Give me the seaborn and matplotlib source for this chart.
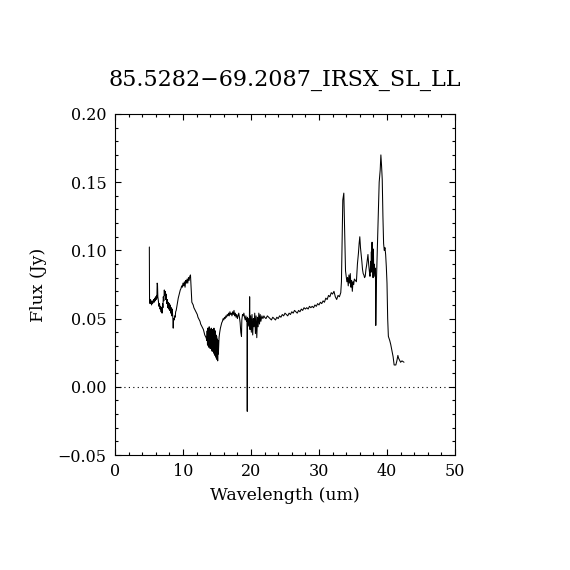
import numpy as np
import pandas as pd
import matplotlib
matplotlib.use("Agg")
import matplotlib.pyplot as plt
import seaborn as sns
from matplotlib.ticker import MultipleLocator, FuncFormatter

title = "85.5282\u221269.2087_IRSX_SL_LL"
x_label = "Wavelength (um)"
y_label = "Flux (Jy)"

# Short-low module
sl_wave = [5.05, 5.08, 5.15, 5.22, 5.30, 5.38, 5.45, 5.52, 5.60, 5.68, 5.75, 5.82, 5.90, 5.98,
           6.05, 6.12, 6.16, 6.20, 6.25, 6.30, 6.38, 6.46, 6.55, 6.62, 6.70, 6.78, 6.85, 6.92,
           7.00, 7.05, 7.10, 7.18, 7.25, 7.30, 7.38, 7.45, 7.52, 7.60, 7.68, 7.75, 7.82, 7.90,
           7.98, 8.05, 8.12, 8.20, 8.28, 8.35, 8.42, 8.50, 8.56, 8.62, 8.70, 8.78, 8.85, 8.92,
           9.00, 9.10, 9.20, 9.30, 9.40, 9.50, 9.60, 9.70, 9.80, 9.90, 10.00, 10.10, 10.20,
           10.30, 10.40, 10.50, 10.60, 10.70, 10.80, 10.90, 11.00, 11.10, 11.20, 11.30, 11.40,
           11.50, 11.60, 11.70, 11.80, 11.90, 12.00, 12.10, 12.20, 12.30, 12.40, 12.50, 12.60,
           12.70, 12.80, 12.90, 13.00, 13.10, 13.20, 13.30, 13.40]
sl_flux = [0.1025, 0.063, 0.061, 0.064, 0.062, 0.060, 0.063, 0.061, 0.062, 0.064, 0.062, 0.065, 0.063, 0.066,
           0.064, 0.067, 0.065, 0.076, 0.075, 0.066, 0.063, 0.059, 0.061, 0.057, 0.059, 0.055, 0.058, 0.054,
           0.061, 0.058, 0.066, 0.063, 0.071, 0.067, 0.070, 0.064, 0.068, 0.061, 0.064, 0.058, 0.062, 0.057,
           0.061, 0.056, 0.060, 0.054, 0.058, 0.052, 0.057, 0.051, 0.043, 0.050, 0.049, 0.052, 0.051, 0.055,
           0.056, 0.059, 0.062, 0.065, 0.067, 0.069, 0.071, 0.072, 0.074, 0.073, 0.076, 0.074, 0.077,
           0.073, 0.078, 0.076, 0.079, 0.076, 0.080, 0.078, 0.081, 0.082, 0.072, 0.062, 0.061,
           0.060, 0.058, 0.057, 0.056, 0.055, 0.054, 0.053, 0.051, 0.050, 0.049, 0.048, 0.046,
           0.045, 0.044, 0.043, 0.042, 0.040, 0.038, 0.037, 0.036]

# Long-low module, noisy blue end
ll_blue_wave = [13.50, 13.55, 13.60, 13.65, 13.70, 13.75, 13.80, 13.85, 13.90, 13.95, 14.00, 14.05,
                14.10, 14.15, 14.20, 14.25, 14.30, 14.35, 14.40, 14.45, 14.50, 14.55, 14.60, 14.65,
                14.70, 14.75, 14.80, 14.85, 14.90, 14.95, 15.00, 15.05, 15.10, 15.15, 15.20, 15.30,
                15.40, 15.50, 15.60, 15.70, 15.80, 15.90, 16.00, 16.10, 16.20, 16.30, 16.40, 16.50,
                16.60, 16.70, 16.80, 16.90, 17.00, 17.10, 17.20, 17.30, 17.40, 17.50, 17.60, 17.70,
                17.80, 17.90, 18.00, 18.10, 18.20, 18.30, 18.40, 18.50, 18.60, 18.65, 18.75, 18.85,
                18.95, 19.05, 19.15, 19.25, 19.35, 19.42, 19.45, 19.48, 19.55, 19.65, 19.75, 19.80,
                19.85, 19.95, 20.05, 20.15, 20.25, 20.35, 20.45, 20.55, 20.65, 20.75, 20.85, 20.95,
                21.05, 21.15, 21.25, 21.35, 21.45, 21.60, 21.75, 21.90]
ll_blue_flux = [0.034, 0.041, 0.031, 0.043, 0.030, 0.040, 0.029, 0.044, 0.032, 0.042, 0.028, 0.041,
                0.030, 0.043, 0.027, 0.040, 0.026, 0.042, 0.028, 0.039, 0.025, 0.043, 0.024, 0.040,
                0.023, 0.041, 0.022, 0.038, 0.021, 0.037, 0.020, 0.035, 0.019, 0.034, 0.024, 0.036,
                0.040, 0.043, 0.045, 0.047, 0.048, 0.050, 0.049, 0.051, 0.050, 0.052, 0.051, 0.053,
                0.052, 0.054, 0.052, 0.055, 0.053, 0.054, 0.052, 0.055, 0.053, 0.056, 0.052, 0.054,
                0.051, 0.053, 0.050, 0.052, 0.054, 0.051, 0.047, 0.040, 0.037, 0.049, 0.053, 0.052,
                0.054, 0.051, 0.049, 0.052, 0.048, 0.050, -0.018, 0.051, 0.045, 0.050, 0.044, 0.066,
                0.042, 0.052, 0.040, 0.053, 0.038, 0.050, 0.044, 0.054, 0.039, 0.052, 0.036, 0.051,
                0.044, 0.054, 0.046, 0.053, 0.048, 0.052, 0.050, 0.052]

# Long-low module, continuum
ll_mid_wave = [22.0, 22.2, 22.4, 22.6, 22.8, 23.0, 23.2, 23.4, 23.6, 23.8,
               24.0, 24.2, 24.4, 24.6, 24.8, 25.0, 25.2, 25.4, 25.6, 25.8,
               26.0, 26.2, 26.4, 26.6, 26.8, 27.0, 27.2, 27.4, 27.6, 27.8,
               28.0, 28.2, 28.4, 28.6, 28.8, 29.0, 29.2, 29.4, 29.6, 29.8,
               30.0, 30.2, 30.4, 30.6, 30.8, 31.0, 31.2, 31.4, 31.6, 31.8,
               32.0, 32.2, 32.4, 32.6, 32.8, 33.0, 33.2, 33.3]
ll_mid_flux = [0.051, 0.050, 0.052, 0.051, 0.050, 0.049, 0.051, 0.050, 0.049, 0.051,
               0.050, 0.052, 0.051, 0.053, 0.052, 0.054, 0.053, 0.052, 0.054, 0.053,
               0.055, 0.054, 0.056, 0.055, 0.054, 0.056, 0.055, 0.057, 0.056, 0.058,
               0.057, 0.058, 0.057, 0.059, 0.058, 0.059, 0.058, 0.060, 0.059, 0.061,
               0.060, 0.062, 0.061, 0.063, 0.062, 0.065, 0.064, 0.067, 0.066, 0.069,
               0.068, 0.070, 0.066, 0.064, 0.067, 0.066, 0.069, 0.077]

# Long-low module, red end with the emission peaks
ll_red_wave = [33.5, 33.65, 33.75, 33.9, 34.0, 34.1, 34.2, 34.3, 34.4, 34.5,
               34.6, 34.7, 34.8, 34.9, 35.0, 35.1, 35.2, 35.35, 35.5, 35.65,
               35.8, 35.9, 36.0, 36.1, 36.2, 36.3, 36.4, 36.5, 36.6, 36.7,
               36.8, 36.9, 37.0, 37.1, 37.2, 37.3, 37.4, 37.5, 37.6, 37.65,
               37.7, 37.75, 37.8, 37.85, 37.9, 37.95, 38.0, 38.05, 38.1, 38.2,
               38.3, 38.35, 38.45, 38.6, 38.7, 38.85, 39.0, 39.1, 39.2, 39.3,
               39.4, 39.5, 39.6, 39.7, 39.8, 39.9, 40.0, 40.1, 40.2, 40.4,
               40.55, 40.7, 40.9, 41.05, 41.3, 41.45, 41.6, 41.7, 41.8, 42.0,
               42.2, 42.5]
ll_red_flux = [0.137, 0.142, 0.120, 0.085, 0.081, 0.077, 0.080, 0.074, 0.082, 0.076,
               0.083, 0.073, 0.078, 0.070, 0.077, 0.075, 0.079, 0.078, 0.077, 0.090,
               0.098, 0.105, 0.110, 0.102, 0.097, 0.092, 0.086, 0.083, 0.082, 0.080,
               0.081, 0.086, 0.089, 0.093, 0.097, 0.090, 0.085, 0.081, 0.092, 0.084,
               0.099, 0.086, 0.106, 0.088, 0.093, 0.080, 0.101, 0.084, 0.090, 0.081,
               0.087, 0.045, 0.078, 0.105, 0.125, 0.150, 0.159, 0.170, 0.162, 0.152,
               0.125, 0.105, 0.100, 0.102, 0.097, 0.088, 0.076, 0.050, 0.037, 0.034,
               0.031, 0.027, 0.022, 0.016, 0.016, 0.019, 0.023, 0.021, 0.020, 0.018,
               0.019, 0.018]

wave = sl_wave + ll_blue_wave + ll_mid_wave + ll_red_wave
flux = sl_flux + ll_blue_flux + ll_mid_flux + ll_red_flux
df = pd.DataFrame({"wave": wave, "flux": flux})

sns.set_style("ticks")
plt.rcParams["font.family"] = ["DejaVu Serif"]
plt.rcParams["axes.unicode_minus"] = True
for key in ["text.color", "axes.labelcolor", "xtick.color", "ytick.color",
            "xtick.labelcolor", "ytick.labelcolor"]:
    plt.rcParams[key] = "black"

fig = plt.figure(figsize=(5.7, 5.7), dpi=100)
ax = fig.add_axes([115/570, 1 - 455/570, 340/570, 341/570])

sns.lineplot(data=df, x="wave", y="flux", sort=False, estimator=None,
             color="black", linewidth=0.75, ax=ax)
ax.axhline(0, color="black", linewidth=0.8, linestyle=(0, (1, 3)))

ax.set_xlim(0, 50)
ax.set_ylim(-0.05, 0.20)
ax.xaxis.set_major_locator(MultipleLocator(10))
ax.xaxis.set_minor_locator(MultipleLocator(2))
ax.yaxis.set_major_locator(MultipleLocator(0.05))
ax.yaxis.set_minor_locator(MultipleLocator(0.01))
ax.yaxis.set_major_formatter(FuncFormatter(
    lambda v, p: ("\u2212" if v < -1e-9 else "") + f"{abs(v):.2f}"))

ax.tick_params(which="both", direction="in", top=True, right=True,
               color="black", width=0.8)
ax.tick_params(which="major", length=4.5, labelsize=11.5, pad=6)
ax.tick_params(which="minor", length=2.3)
for s in ax.spines.values():
    s.set_color("black")
    s.set_linewidth(0.8)

ax.set_xlabel(x_label, fontsize=12.5, labelpad=5)
ax.set_ylabel(y_label, fontsize=12.5, labelpad=8)
ax.set_title(title, fontsize=16, pad=20, color="black")

fig.savefig("out.png", dpi=100, facecolor="white")
